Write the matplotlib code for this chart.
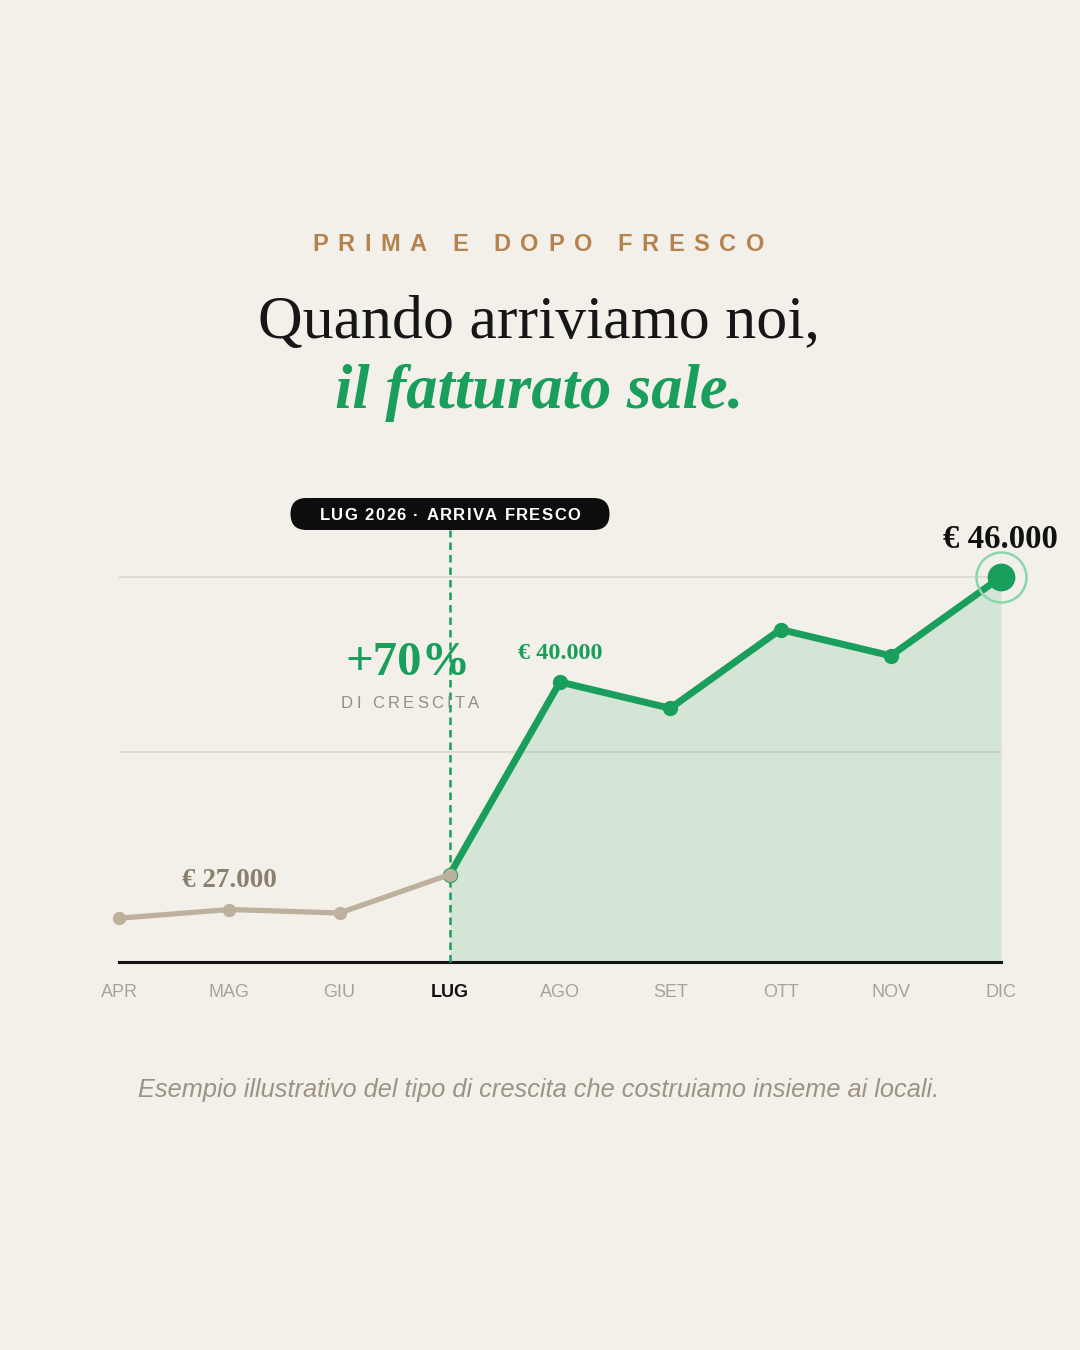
import matplotlib
matplotlib.use('Agg')
import matplotlib.pyplot as plt
from matplotlib.font_manager import FontProperties
from matplotlib.patches import FancyBboxPatch

#*********************************************************************************
# data
months = ['APR', 'MAG', 'GIU', 'LUG', 'AGO', 'SET', 'OTT', 'NOV', 'DIC']
revenue = [26500, 27000, 26800, 29000, 40000, 38500, 43000, 41500, 46000]
launch = 3          # LUG: arriva Fresco
grid_vals = [36000, 46000]

#*********************************************************************************
# colours
bg = '#f3f0ea'
green = '#1a9e5c'
beige = '#bdb19e'
W, H = 1080, 1350

fig = plt.figure(figsize=(10.8, 13.5), dpi=100, facecolor=bg)
renderer = fig.canvas.get_renderer()

def px(x, y):
    return x / W, 1 - y / H

def tracked(cx, y, s, target, family, size, weight='normal', color='k', **kw):
    # letter-spaced text, spread to a target width in pixels
    fp = FontProperties(family=family, size=size, weight=weight)
    ref = renderer.get_text_width_height_descent('||', fp, ismath=False)[0]
    widths = [renderer.get_text_width_height_descent('|' + c + '|', fp, ismath=False)[0] - ref for c in s]
    track = (target - sum(widths)) / (len(s) - 1)
    x = cx - target / 2
    for c, w in zip(s, widths):
        fig.text(*px(x, y), c, fontproperties=fp, color=color, ha='left', va='baseline', **kw)
        x += w + track

#*********************************************************************************
# chart axes: x 119..1001 px, 24000 at y=962, 50000 at y=507
ax = fig.add_axes([119 / W, (H - 962) / H, 882 / W, 455 / H])
ax.set_facecolor('none')
ax.set_xlim(0, len(months) - 1)
ax.set_ylim(24000, 50000)
for s in ['top', 'right', 'left']:
    ax.spines[s].set_visible(False)
ax.spines['bottom'].set_color('#141414')
ax.spines['bottom'].set_linewidth(2.2)
ax.set_yticks([])

for g in grid_vals:
    ax.axhline(g, color='#dcd7cc', lw=1.2, zorder=1)

xs = list(range(len(months)))
ax.fill_between(xs[launch:], 24000, revenue[launch:], color=green, alpha=0.14, lw=0, zorder=2)
ax.plot([launch, launch], [24000, 48700], color=green, lw=1.8, ls=(0, (3, 2)), zorder=3, clip_on=False)
ax.plot(xs[launch:], revenue[launch:], color=green, lw=5, zorder=4, solid_capstyle='round',
        marker='o', ms=10, clip_on=False)
ax.plot(xs[:launch + 1], revenue[:launch + 1], color=beige, lw=3.8, zorder=5,
        marker='o', ms=8.6, mec=beige, clip_on=False)
ax.plot(xs[-1], revenue[-1], 'o', ms=36, mfc='none', mec='#8ad6ab', mew=1.8, zorder=6, clip_on=False)
ax.plot(xs[-1], revenue[-1], 'o', ms=19, color=green, zorder=7, clip_on=False)

ax.set_xticks(xs)
ax.set_xticklabels(months, family='Liberation Sans', fontsize=13, color='#a8a39a')
ax.tick_params(axis='x', length=0, pad=16)
lab = ax.get_xticklabels()[launch]
lab.set_color('#111111')
lab.set_fontweight('bold')

#*********************************************************************************
# titles
tracked(538, 251, 'PRIMA E DOPO FRESCO', 452, 'Liberation Sans', 17, 'bold', '#b5834f')
fig.text(*px(539, 338), 'Quando arriviamo noi,', family='Liberation Serif', fontsize=44.6,
         color='#161616', ha='center', va='baseline')
fig.text(*px(539, 408), 'il fatturato sale.', family='Liberation Serif', fontsize=45,
         weight='bold', style='italic', color=green, ha='center', va='baseline')

# pill label
pill = FancyBboxPatch((2.905, 13.5 - 5.30), 3.19, 0.32, boxstyle='round,pad=0,rounding_size=0.16',
                      transform=fig.dpi_scale_trans, facecolor='#0d0d0d', edgecolor='none', zorder=10)
fig.patches.append(pill)
tracked(450, 520, 'LUG 2026 · ARRIVA FRESCO', 261, 'Liberation Sans', 12, 'bold', 'white', zorder=11)

# annotations
fig.text(*px(1000, 548), '€ 46.000', family='Liberation Serif', fontsize=23.6, weight='bold',
         color='#111111', ha='center', va='baseline')
fig.text(*px(560, 659), '€ 40.000', family='Liberation Serif', fontsize=17.5, weight='bold',
         color=green, ha='center', va='baseline')
fig.text(*px(229, 887), '€ 27.000', family='Liberation Serif', fontsize=19.5, weight='bold',
         color='#8a806e', ha='center', va='baseline')
fig.text(*px(408, 675), '+70%', family='Liberation Serif', fontsize=35, weight='bold',
         color=green, ha='center', va='baseline')
tracked(410, 708, 'DI CRESCITA', 138, 'Liberation Sans', 12, 'normal', '#8d8f88')

fig.text(*px(539, 1097), 'Esempio illustrativo del tipo di crescita che costruiamo insieme ai locali.',
         family='Liberation Sans', fontsize=18.3, style='italic', color='#9b9383',
         ha='center', va='baseline')

plt.savefig('out.png', dpi=100, facecolor=bg)
plt.close()
